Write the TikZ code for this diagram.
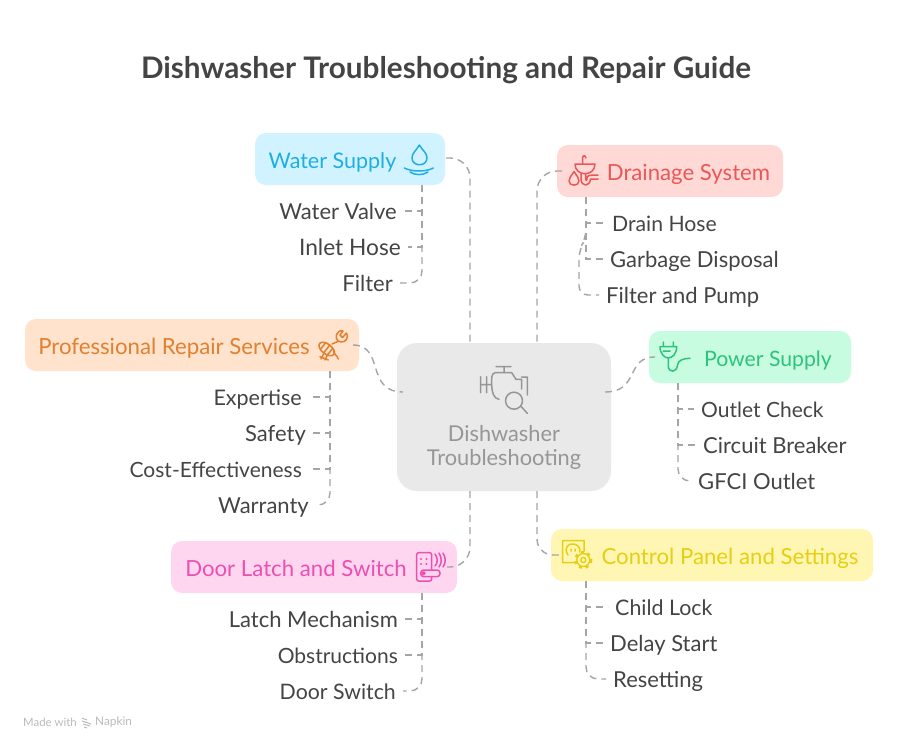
\documentclass[tikz,border=0pt]{standalone}
\usepackage{xcolor}
\usepackage{fontspec}
\setmainfont{Lato}
\definecolor{inktext}{RGB}{68,68,68}
\definecolor{linkgray}{RGB}{165,165,165}
\definecolor{hubfill}{RGB}{233,233,233}
\definecolor{hubink}{RGB}{150,150,150}
\definecolor{waterfill}{RGB}{208,243,255}
\definecolor{waterink}{RGB}{32,174,226}
\definecolor{drainfill}{RGB}{255,217,214}
\definecolor{drainink}{RGB}{235,87,87}
\definecolor{powerfill}{RGB}{200,252,224}
\definecolor{powerink}{RGB}{46,194,126}
\definecolor{repairfill}{RGB}{255,227,204}
\definecolor{repairink}{RGB}{224,128,48}
\definecolor{doorfill}{RGB}{255,214,240}
\definecolor{doorink}{RGB}{236,79,176}
\definecolor{panelfill}{RGB}{255,246,179}
\definecolor{panelink}{RGB}{230,207,16}
\tikzset{
  catbox/.style={rectangle, rounded corners=11pt, inner sep=0pt, minimum height=52pt},
  cattext/.style={font=\fontsize{22.2}{24}\selectfont, inner ysep=0pt, text height=20pt, text depth=3pt},
  childtext/.style={font=\fontsize{22}{24}\selectfont, text=inktext, inner ysep=0pt, inner xsep=7pt, text height=19pt, text depth=3pt},
  link/.style={draw=linkgray, line width=1.4pt, dash pattern=on 7pt off 5pt},
  icon/.style={line width=1.5pt, line cap=round, line join=round},
}
\begin{document}
\begin{tikzpicture}[x=1pt, y=-1pt]
\useasboundingbox (0,0) rectangle (898,750);
\node[font=\bfseries\fontsize{29.7}{32}\selectfont, text=inktext] (title) at (446,70) {Dishwasher Troubleshooting and Repair Guide};
\node[font=\fontsize{11.4}{13}\selectfont, text=black!27, anchor=west, inner sep=0pt] (madewith) at (23,722) {Made with};
\node[font=\fontsize{11.8}{13}\selectfont, text=black!27, anchor=west, inner sep=0pt] (napkin) at (95,722) {Napkin};
\draw[black!27, line width=1pt] (82,718) -- (87,720) (82,721) -- (91,724) (83,724) -- (90,726) (84,727) -- (87,728);
% boxes
\node[catbox, rounded corners=20pt, fill=hubfill, minimum width=214pt, minimum height=148pt] (hub) at (504,417) {};
\node[catbox, fill=waterfill, minimum width=190pt] (water) at (350,159) {};
\node[catbox, fill=drainfill, minimum width=226pt] (drain) at (670,171) {};
\node[catbox, fill=powerfill, minimum width=202pt] (power) at (750,357) {};
\node[catbox, fill=repairfill, minimum width=334pt] (repair) at (192,345) {};
\node[catbox, fill=doorfill, minimum width=286pt] (door) at (314,567) {};
\node[catbox, fill=panelfill, minimum width=322pt] (panel) at (712,555) {};
% box labels
\node[text=hubink, align=center, font=\fontsize{21.8}{24}\selectfont] (hubtext) at (504,447) {Dishwasher\\Troubleshooting};
\node[cattext, text=waterink, font=\fontsize{21.5}{24}\selectfont] (watertext) at (332.5,160) {Water Supply};
\node[cattext, text=drainink] (draintext) at (688.5,172) {Drainage System};
\node[cattext, text=powerink, font=\fontsize{21.2}{24}\selectfont] (powertext) at (768,358) {Power Supply};
\node[cattext, text=repairink] (repairtext) at (174,346) {Professional Repair Services};
\node[cattext, text=doorink] (doortext) at (296,568) {Door Latch and Switch};
\node[cattext, text=panelink] (paneltext) at (730,556) {Control Panel and Settings};
% children
\node[childtext, anchor=east] (valve) at (404,211) {Water Valve};
\node[childtext, anchor=east, font=\fontsize{22.7}{24}\selectfont] (inlet) at (408,247) {Inlet Hose};
\node[childtext, anchor=east] (filter) at (400,283) {Filter};
\node[childtext, anchor=west, font=\fontsize{21.2}{24}\selectfont] (hose) at (605,223) {Drain Hose};
\node[childtext, anchor=west] (disposal) at (603,259) {Garbage Disposal};
\node[childtext, anchor=west] (pump) at (599,295) {Filter and Pump};
\node[childtext, anchor=west, font=\fontsize{21}{24}\selectfont] (outlet) at (694,409) {Outlet Check};
\node[childtext, anchor=west] (breaker) at (696,445) {Circuit Breaker};
\node[childtext, anchor=west] (gfci) at (691,481) {GFCI Outlet};
\node[childtext, anchor=east, font=\fontsize{21.5}{24}\selectfont] (expertise) at (309,397) {Expertise};
\node[childtext, anchor=east] (safety) at (313,433) {Safety};
\node[childtext, anchor=east, font=\fontsize{21}{24}\selectfont] (cost) at (309,469) {Cost-Effectiveness};
\node[childtext, anchor=east] (warranty) at (316,505) {Warranty};
\node[childtext, anchor=east] (latch) at (405,619) {Latch Mechanism};
\node[childtext, anchor=east, font=\fontsize{21}{24}\selectfont] (block) at (405,655) {Obstructions};
\node[childtext, anchor=east, font=\fontsize{21.3}{24}\selectfont] (switch) at (403,691) {Door Switch};
\node[childtext, anchor=west, font=\fontsize{21.4}{24}\selectfont] (lock) at (608,607) {Child Lock};
\node[childtext, anchor=west] (delay) at (603,643) {Delay Start};
\node[childtext, anchor=west] (reset) at (606,679) {Resetting};
% connectors
\coordinate (hubnw) at (470,343);
\coordinate (hubne) at (537,343);
\coordinate (hubsw) at (470,491);
\coordinate (hubse) at (537,491);
\coordinate (hubw) at (403,392);
\coordinate (hube) at (605,392);
\coordinate (waterin) at (446,158);
\coordinate (drainin) at (562,171);
\coordinate (doorin) at (447,567);
\coordinate (panelin) at (562,555);
\coordinate (powerin) at (655,357);
\coordinate (repairin) at (353,345);
\coordinate (watertrunk) at (422,185);
\coordinate (draintrunk) at (586,197);
\coordinate (powertrunk) at (678,383);
\coordinate (repairtrunk) at (330,371);
\coordinate (doortrunk) at (422,593);
\coordinate (paneltrunk) at (586,581);
\draw[link, rounded corners=20pt] (waterin) -| (hubnw);
\draw[link, rounded corners=20pt] (drainin) -| (hubne);
\draw[link, rounded corners=20pt] (hubsw) |- (doorin);
\draw[link, rounded corners=16pt] (hubse) |- (panelin);
\draw[link] (hube) .. controls (640,392) and (625,357) .. (powerin);
\draw[link] (repairin) .. controls (385,345) and (365,392) .. (hubw);
\draw[link] (watertrunk) |- (valve.east);
\draw[link] (watertrunk) |- (inlet.east);
\draw[link, rounded corners=12pt] (watertrunk) |- (filter.east);
\draw[link] (draintrunk) |- (hose.west);
\draw[link] (draintrunk) |- (disposal.west);
\draw[link, rounded corners=9pt] (draintrunk) -- (586,238) -- (579,250) |- (pump.west);
\draw[link] (powertrunk) |- (outlet.west);
\draw[link] (powertrunk) |- (breaker.west);
\draw[link, rounded corners=12pt] (powertrunk) |- (gfci.west);
\draw[link] (repairtrunk) |- (expertise.east);
\draw[link] (repairtrunk) |- (safety.east);
\draw[link] (repairtrunk) |- (cost.east);
\draw[link, rounded corners=12pt] (repairtrunk) |- (warranty.east);
\draw[link] (doortrunk) |- (latch.east);
\draw[link] (doortrunk) |- (block.east);
\draw[link, rounded corners=12pt] (doortrunk) |- (switch.east);
\draw[link] (paneltrunk) |- (lock.west);
\draw[link] (paneltrunk) |- (delay.west);
\draw[link, rounded corners=12pt] (paneltrunk) |- (reset.west);
% icons
\draw[icon, hubink] (496,366.7) -- (511,366.7) (504,366.7) -- (504,372.7) (495,372.7) -- (511.7,372.7) -- (516,379.3) -- (521.7,379.3) (521.7,379.3) -- (521.7,389) (527.3,377) -- (527.3,395) (521.7,377) -- (527.3,377)
  (480.7,376.7) -- (480.7,392.7) (486.7,376.7) -- (486.7,392.7) (480.7,384.5) -- (491.7,384.5) (495,372.7) .. controls (491,374) and (491.7,378) .. (491.7,385) .. controls (491.7,392) and (494,399) .. (499,399.3)
  (520.7,406) -- (527.3,413.3);
\draw[icon, hubink] (514,400.7) circle (8.5);
\draw[icon, waterink] (419.3,145) .. controls (416,151) and (412,153) .. (412,158) .. controls (412,167) and (427,167) .. (427,158) .. controls (427,153) and (423,151) .. (419.3,145)
  (404.3,168) .. controls (412,172) and (426,172) .. (433.3,168) (410,172) .. controls (415,175.5) and (423,175.5) .. (428,172);
\draw[icon, drainink] (575,164) -- (595,164) .. controls (595,177) and (575,177) .. (575,164) (582.7,164) -- (582.7,157) .. controls (583,155) and (585,155) .. (586,158)
  (574,171.7) .. controls (571,176) and (569,178) .. (569,181) .. controls (569,186.5) and (579,186.5) .. (579,181) .. controls (579,178) and (577,176) .. (574,171.7)
  (581,174) -- (581,179) .. controls (581,187) and (590,187) .. (590.5,179) -- (598,179) (585.5,174) -- (585.5,179) .. controls (585.5,181) and (587,181) .. (587,178) .. controls (587,175.5) and (589,175) .. (598,175);
\draw[icon, powerink] (663.3,342) -- (663.3,346.7) (673.3,342) -- (673.3,346.7) (660,346.7) -- (676.7,346.7) .. controls (676.7,354) and (672,358) .. (668.3,358) .. controls (664.7,358) and (660,354) .. (660,346.7) (663,351) -- (670,351)
  (668.3,358) -- (668.3,366) .. controls (668.3,373) and (677,373) .. (677.5,365) .. controls (678,360) and (684,358.3) .. (690,358.3);
\draw[icon, repairink, rotate around={-38:(326.7,349)}] (326.7,349) ellipse (9 and 5) (322,344.5) -- (322,353.5) (326.7,344) -- (326.7,354) (331,344.5) -- (331,353.5);
\draw[icon, repairink] (320,356.7) -- (328.3,360) (324,353) -- (321,359) (328,354) -- (325,360) (332,344) -- (339,341)
  (333.3,349) .. controls (333,354) and (337,355) .. (338.3,359)
  (339,331.5) .. controls (334,335) and (336,342) .. (341,342) .. controls (346,342.5) and (349,337) .. (346.5,333) -- (342.5,337.5) -- (340,335) -- (343,331) .. controls (342,330.5) and (340,330.5) .. (339,331.5);
\draw[icon, doorink, rounded corners=2pt] (416.7,552.7) rectangle (431.7,581);
\draw[icon, doorink, rounded corners=3pt, fill=doorfill] (420.7,570) rectangle (440,576.7);
\draw[icon, doorink] (423.5,573.3) circle (1.5) (435,554) .. controls (438,558) and (438,563) .. (435,566) (439,553) .. controls (442,558) and (442,563) .. (439,567) (443,553) .. controls (446,558) and (446,563) .. (443,567);
\fill[doorink] (421,559) circle (1.1) (426.5,559) circle (1.1) (421,564) circle (1.1) (426.5,564) circle (1.1);
\draw[icon, panelink] (575,562.7) -- (562.7,562.7) -- (562.7,540.7) -- (584,540.7) -- (584,551) (568,555) .. controls (563,547) and (569,543) .. (574,544) .. controls (578,545) and (581,548) .. (579.5,552) (571,549) -- (571,551) (575,549) -- (575,551);
\draw[icon, panelink, fill=panelfill, line width=1.4pt] (583.3,560) circle (6.5);
\draw[icon, panelink, line cap=butt, line width=2.6pt, dash pattern=on 3pt off 3.8pt] (583.3,560) circle (7.8);
\draw[icon, panelink, line width=1.4pt] (583.3,560) circle (2.5);
\end{tikzpicture}
\end{document}
